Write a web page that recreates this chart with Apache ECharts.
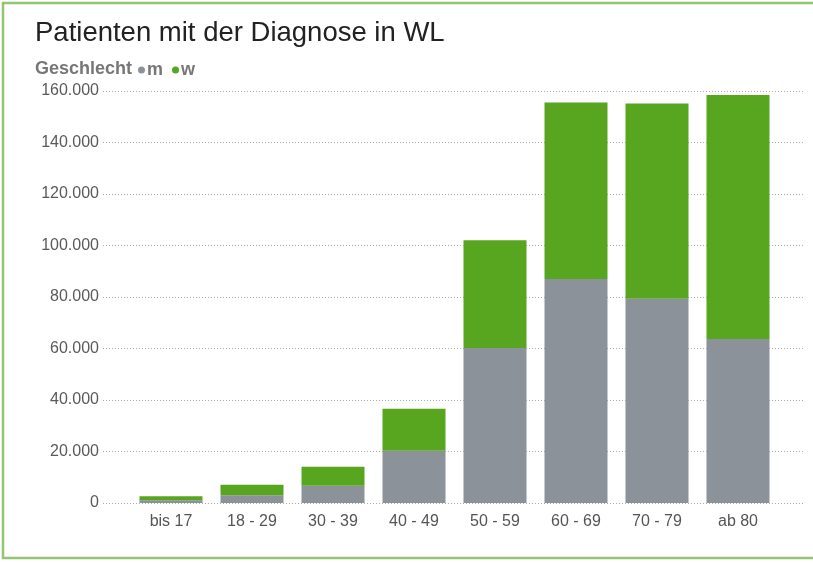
<!DOCTYPE html>
<html>
<head>
<meta charset="utf-8">
<script src="https://cdn.jsdelivr.net/npm/echarts@6/dist/echarts.min.js"></script>
<style>
html,body{margin:0;padding:0;background:#fff;}
#chart{width:813px;height:563px;}
</style>
</head>
<body>
<div id="chart"></div>
<script>
const categories = ['bis 17', '18 - 29', '30 - 39', '40 - 49', '50 - 59', '60 - 69', '70 - 79', 'ab 80'];
const seriesNames = ['m', 'w'];
const maleValues = [1100, 3000, 6700, 20300, 60200, 87000, 79300, 63700];
const femaleValues = [1500, 4100, 7400, 16300, 41800, 68500, 75800, 94700];
const yTicks = { min: 0, max: 160000, interval: 20000 };

const GRAY = '#8b9299';
const GREEN = '#58a51f';

function fmt(v) {
  return String(v).replace(/\B(?=(\d{3})+(?!\d))/g, '.');
}

const chart = echarts.init(document.getElementById('chart'));
chart.setOption({
  backgroundColor: '#ffffff',
  animation: false,
  title: {
    text: 'Patienten mit der Diagnose in WL',
    left: 35, top: 19, padding: 0,
    textStyle: { fontFamily: 'Liberation Sans, Arial', fontSize: 27.5, fontWeight: 'normal', color: '#222' }
  },
  legend: {
    data: seriesNames,
    left: 138, top: 61, padding: 0,
    icon: 'circle',
    itemWidth: 7, itemHeight: 7,
    itemGap: 9,
    textStyle: { fontFamily: 'Liberation Sans, Arial', fontSize: 18, fontWeight: 'bold', color: '#777', padding: [0, 0, 0, -3] }
  },
  graphic: [
    {
      type: 'rect', silent: true,
      shape: { x: 3, y: 3, width: 830, height: 555 },
      style: { fill: 'none', stroke: '#91c572', lineWidth: 2.5 }
    },
    {
      type: 'text', left: 35, top: 60,
      style: { text: 'Geschlecht', font: 'bold 18px Liberation Sans, Arial', fill: '#777' }
    }
  ],
  grid: [
    { left: 103, right: 10, top: 91, bottom: 60 },
    { left: 130.5, right: 34.5, top: 91, bottom: 60 }
  ],
  xAxis: [
    { type: 'value', gridIndex: 0, show: false, min: 0, max: 1 },
    {
      type: 'category', gridIndex: 1, data: categories,
      axisLine: { show: false }, axisTick: { show: false },
      axisLabel: { fontFamily: 'Liberation Sans, Arial', fontSize: 16, color: '#555', margin: 11 }
    }
  ],
  yAxis: [
    {
      type: 'value', gridIndex: 0, min: yTicks.min, max: yTicks.max, interval: yTicks.interval,
      axisLine: { show: false }, axisTick: { show: false },
      axisLabel: { formatter: fmt, fontFamily: 'Liberation Sans, Arial', fontSize: 16, color: '#5a5a5a', margin: 4 },
      splitLine: { lineStyle: { color: '#aaa', type: [1, 2], width: 1 } }
    },
    {
      type: 'value', gridIndex: 1, min: yTicks.min, max: yTicks.max, interval: yTicks.interval,
      show: false, splitLine: { show: false }
    }
  ],
  series: [
    {
      name: seriesNames[0], type: 'bar', stack: 'total', xAxisIndex: 1, yAxisIndex: 1,
      data: maleValues, barWidth: 63,
      itemStyle: { color: GRAY }
    },
    {
      name: seriesNames[1], type: 'bar', stack: 'total', xAxisIndex: 1, yAxisIndex: 1,
      data: femaleValues, barWidth: 63,
      itemStyle: { color: GREEN }
    }
  ]
});
</script>
</body>
</html>
